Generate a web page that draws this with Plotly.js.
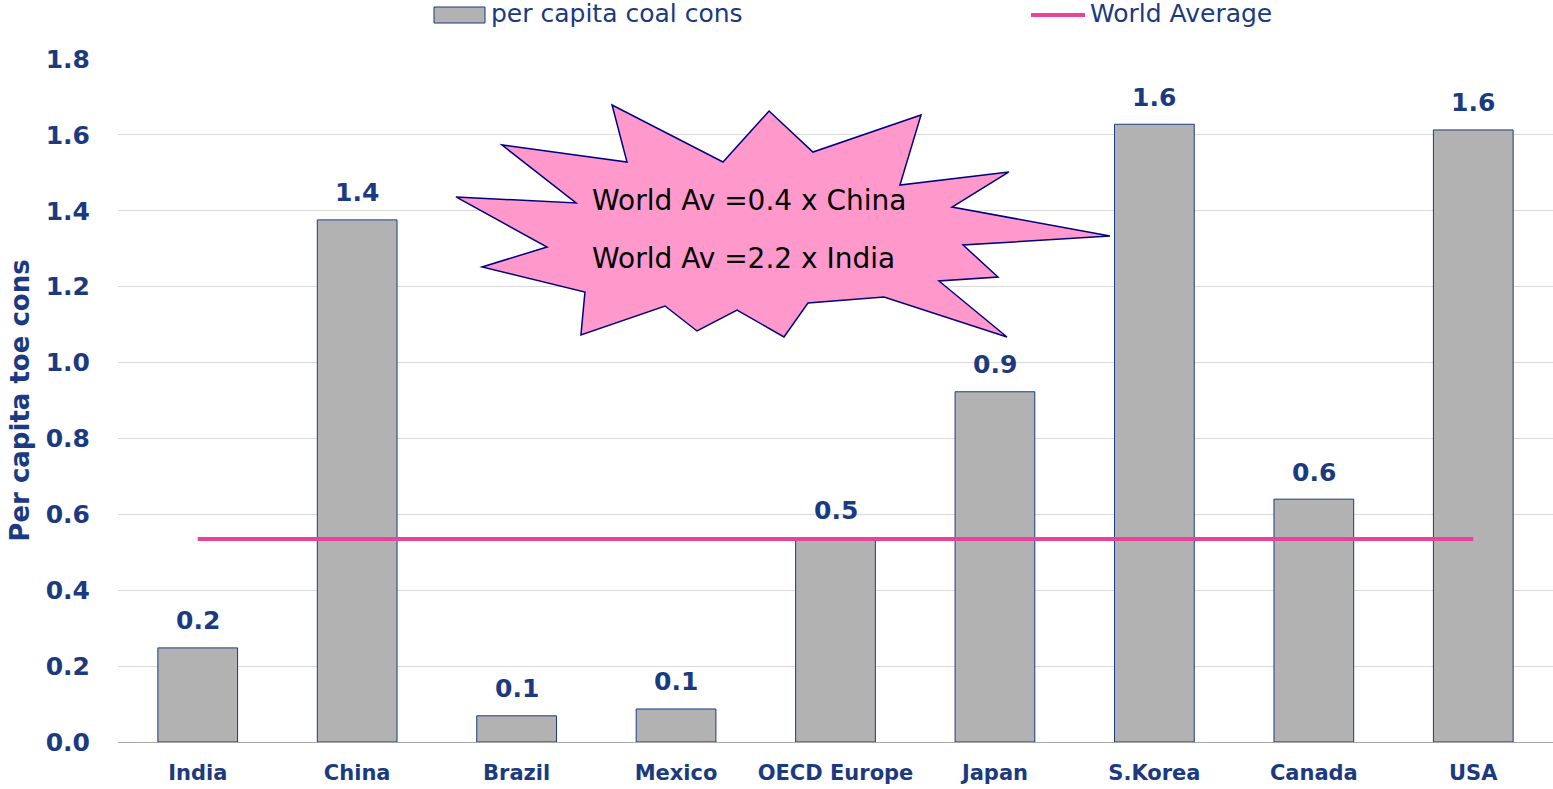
<!DOCTYPE html>
<html><head><meta charset="utf-8">
<script src="https://cdn.plot.ly/plotly-3.0.1.min.js"></script>
<style>html,body{margin:0;padding:0;background:#fff}#chart{width:1553px;height:789px}</style>
</head><body><div id="chart"></div>
<script>
const categories = ["India","China","Brazil","Mexico","OECD Europe","Japan","S.Korea","Canada","USA"];
const coalPerCapita = [0.248, 1.376, 0.069, 0.087, 0.538, 0.923, 1.628, 0.640, 1.613];
const worldAverage = [0.535, 0.535, 0.535, 0.535, 0.535, 0.535, 0.535, 0.535, 0.535];
const yTicks = [0, 0.2, 0.4, 0.6, 0.8, 1.0, 1.2, 1.4, 1.6, 1.8];
const seriesNames = ["per capita coal cons", "World Average"];
const burstLines = ["World Av =0.4 x China", "World Av =2.2 x India"];

const NAVY = "#1B3A80";
const PINK = "#E8439A";
const W = 1553, H = 789, L = 118, R = 0, T = 59, B = 47;
const PW = W - L - R, PH = H - T - B;
const px = x => (x - L) / PW;
const py = y => (H - B - y) / PH;

// starburst callout outline (decoration, pixel positions)
const burst = [[612,105],[627,162],[502,145],[576,203],[456,197],[547,247],[482,267],[585,292],[581,335],[665,306],[697,331],[737,310],[784,337],[808,303],[884,297],[1007,337],[939,281],[998,277],[963,245],[1110,236],[952,207],[1009,172],[900,185],[921,115],[813,152],[769,111],[723,162]];
const path = burst.map((p,i)=>(i?"L":"M")+px(p[0]).toFixed(4)+","+py(p[1]).toFixed(4)).join(" ")+" Z";

const traces = [
  {type:"bar", name:seriesNames[0], x:categories, y:coalPerCapita,
   marker:{color:"#B2B2B2", line:{color:NAVY, width:1}}, showlegend:false},
  {type:"scatter", mode:"lines", name:seriesNames[1], x:categories, y:worldAverage,
   line:{color:PINK, width:4}, showlegend:false}
];

const labelAnn = categories.map((c,i)=>({
  x:c, y:coalPerCapita[i], xref:"x", yref:"y", text:coalPerCapita[i].toFixed(1),
  showarrow:false, yanchor:"middle", yshift:27,
  font:{family:"DejaVu Sans", size:25, color:NAVY, weight:"bold"}
}));

const layout = {
  width:W, height:H, margin:{l:L, r:R, t:T, b:B},
  paper_bgcolor:"#fff", plot_bgcolor:"#fff",
  bargap:0.5, showlegend:false,
  font:{family:"DejaVu Sans", color:NAVY},
  xaxis:{type:"category", showgrid:false, ticks:"", ticklabelstandoff:12,
    tickfont:{family:"DejaVu Sans", size:21, color:NAVY, weight:"bold"},
    showline:true, linecolor:"#A6A6A6", linewidth:1, zeroline:false},
  yaxis:{range:[0,1.8], tickvals:yTicks, ticktext:yTicks.map(v=>v.toFixed(1)),
    showgrid:true, gridcolor:"#D9D9D9", gridwidth:1, zeroline:false, showline:false, ticks:"",
    ticklabelstandoff:27,
    tickfont:{family:"DejaVu Sans", size:25, color:NAVY, weight:"bold"},
    title:{text:"Per capita toe cons", standoff:8,
      font:{family:"DejaVu Sans", size:26, color:NAVY, weight:"bold"}}},
  shapes:[
    {type:"path", xref:"paper", yref:"paper", path:path,
     fillcolor:"#FF99CC", line:{color:"#000080", width:1.5}},
    {type:"rect", xref:"paper", yref:"paper", x0:px(434), x1:px(485), y0:py(23), y1:py(7),
     fillcolor:"#B2B2B2", line:{color:NAVY, width:1}},
    {type:"line", xref:"paper", yref:"paper", x0:px(1031), x1:px(1085), y0:py(15), y1:py(15),
     line:{color:PINK, width:4}}
  ],
  annotations:[
    {xref:"paper", yref:"paper", x:px(489), y:py(14), xanchor:"left", yanchor:"middle",
     text:seriesNames[0], showarrow:false,
     font:{family:"DejaVu Sans", size:25, color:NAVY}},
    {xref:"paper", yref:"paper", x:px(1088), y:py(14), xanchor:"left", yanchor:"middle",
     text:seriesNames[1], showarrow:false,
     font:{family:"DejaVu Sans", size:25, color:NAVY}},
    {xref:"paper", yref:"paper", x:px(590), y:py(201), xanchor:"left", yanchor:"middle",
     text:burstLines[0], showarrow:false,
     font:{family:"DejaVu Sans", size:28, color:"#000"}},
    {xref:"paper", yref:"paper", x:px(590), y:py(258), xanchor:"left", yanchor:"middle",
     text:burstLines[1], showarrow:false,
     font:{family:"DejaVu Sans", size:28, color:"#000"}}
  ].concat(labelAnn)
};
Plotly.newPlot("chart", traces, layout, {displayModeBar:false, staticPlot:true});
</script></body></html>
